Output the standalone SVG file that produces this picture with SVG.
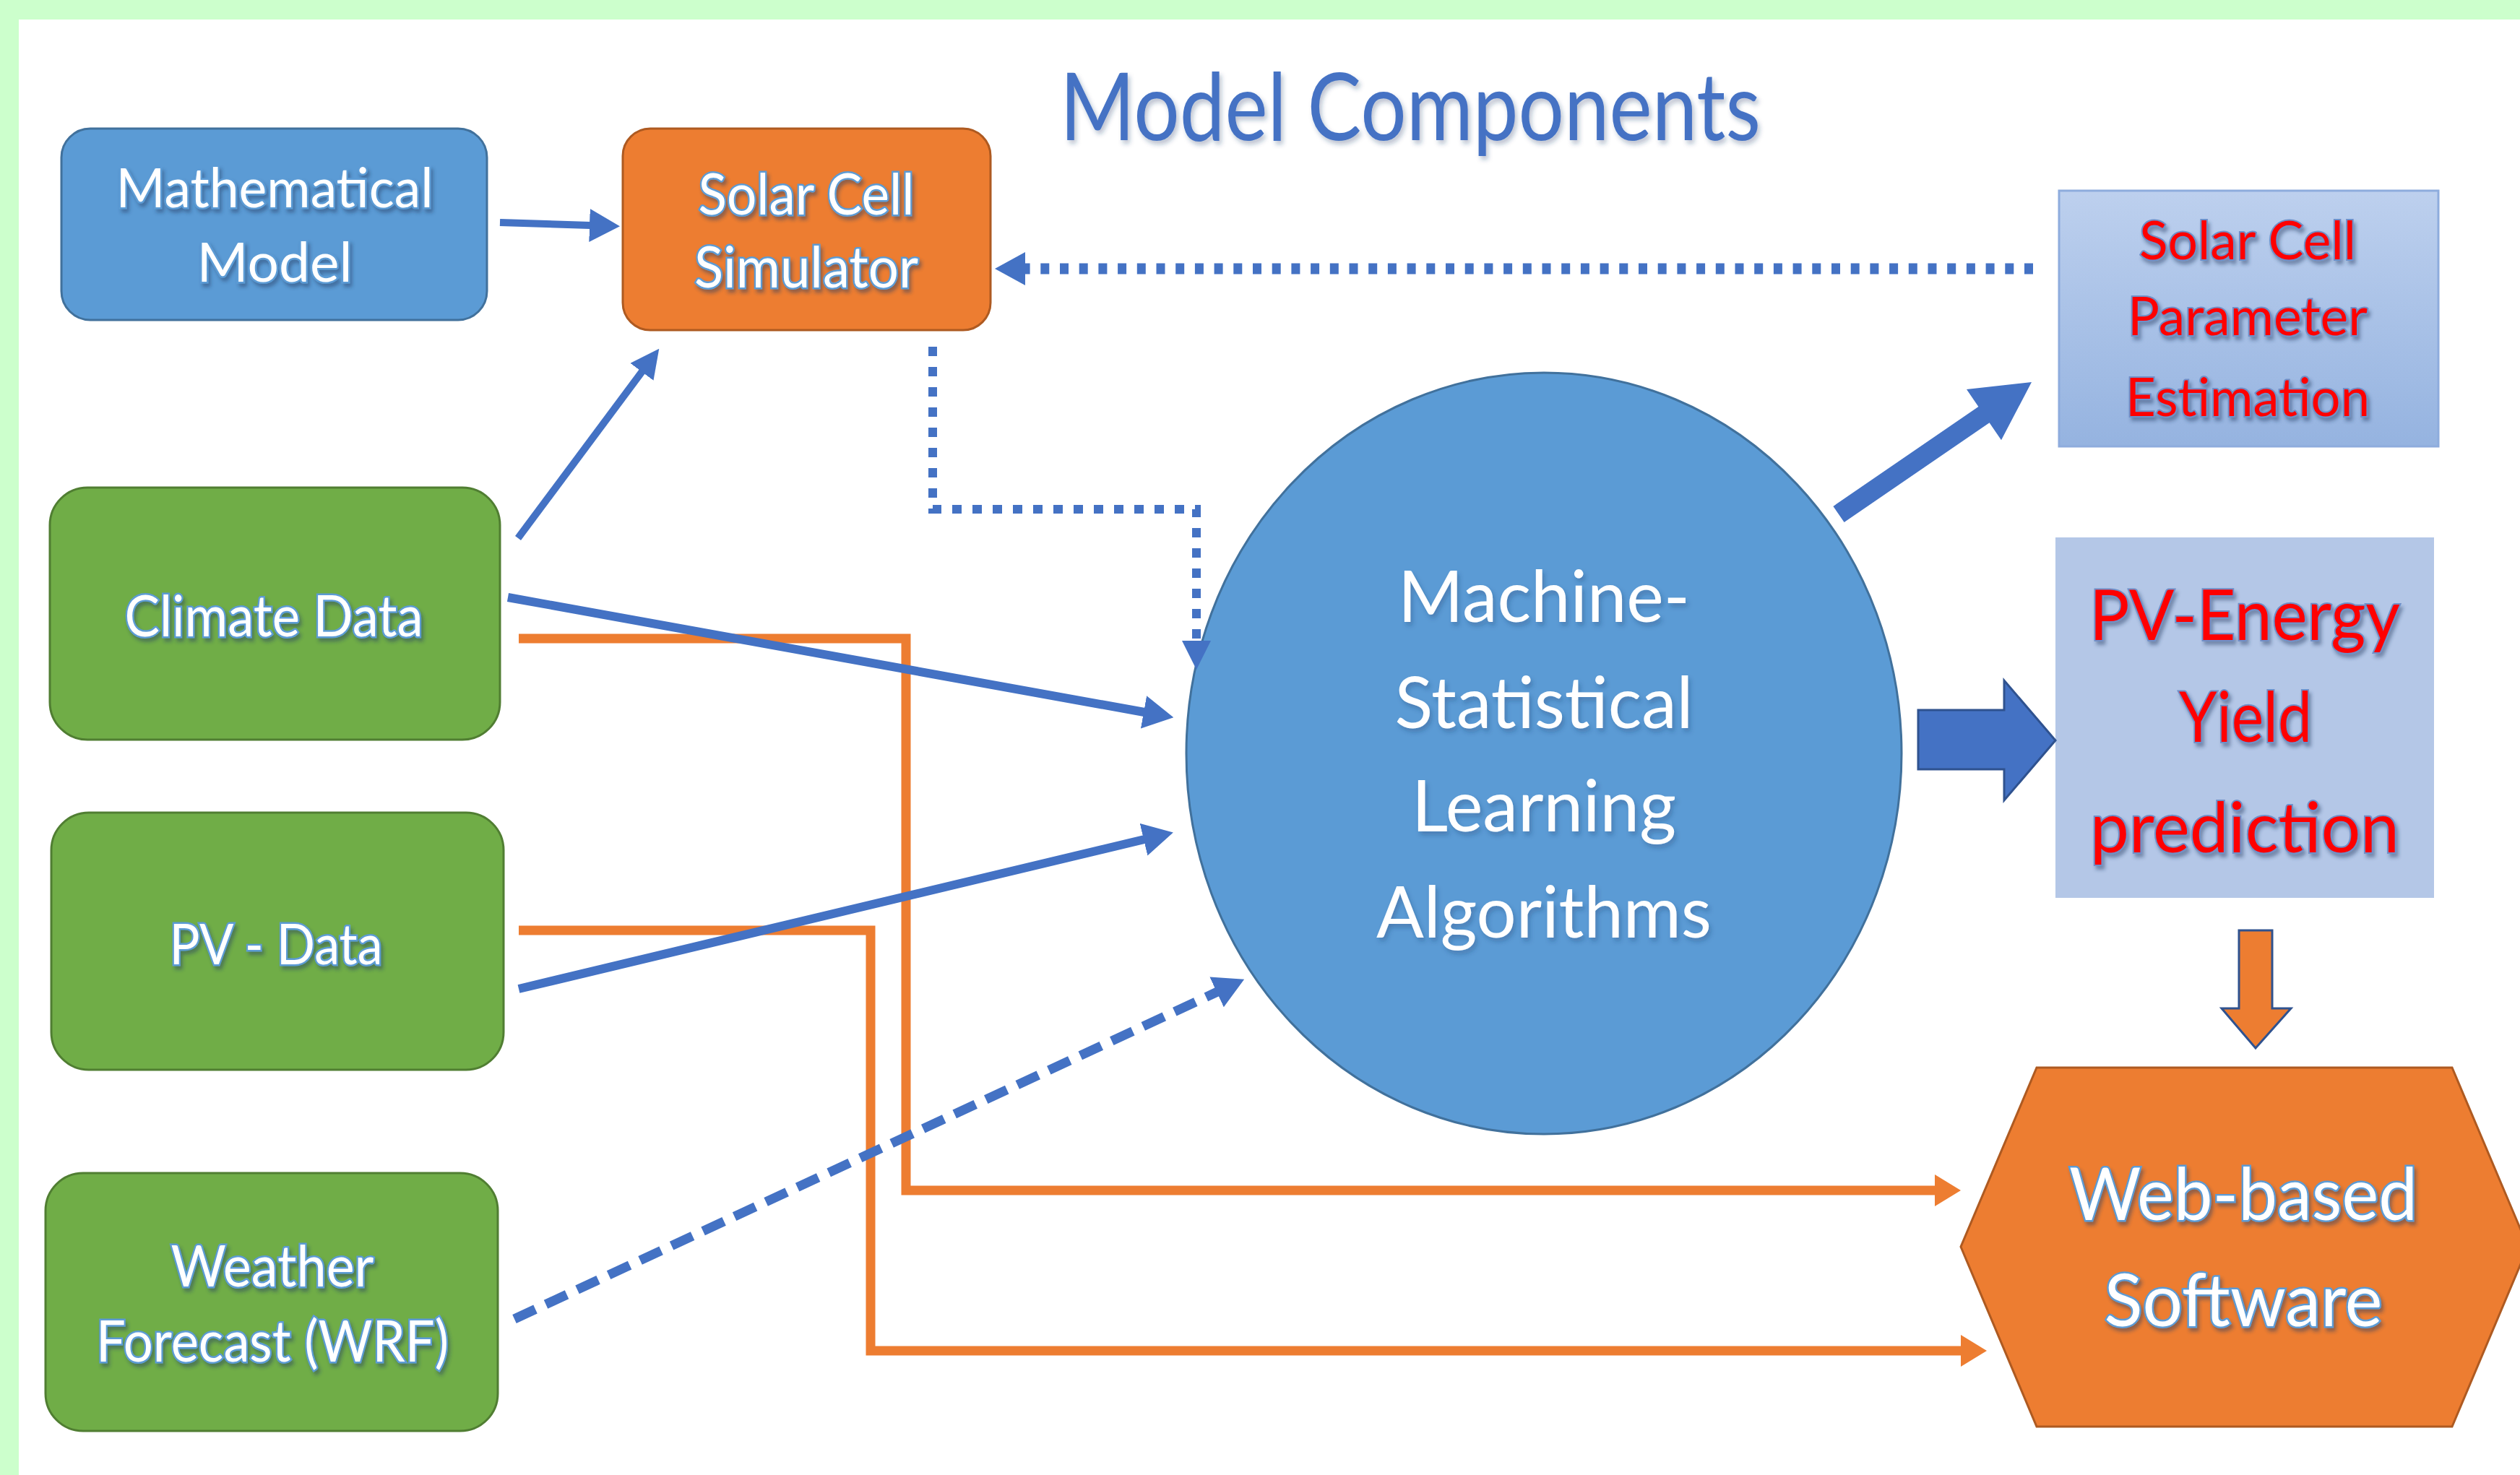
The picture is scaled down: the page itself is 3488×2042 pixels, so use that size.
<svg xmlns="http://www.w3.org/2000/svg" width="3488" height="2042" viewBox="0 0 3488 2042">
<defs>
<style>
.lbl{font-family:Lato,"Open Sans","Liberation Sans",sans-serif;fill:#fff;stroke:#5B9BD5;stroke-width:5;paint-order:stroke;text-anchor:middle;filter:url(#sh)}
.ctx{font-family:Lato,"Open Sans","Liberation Sans",sans-serif;fill:#fff;text-anchor:middle;filter:url(#sh2)}
.red{font-family:Lato,"Open Sans","Liberation Sans",sans-serif;fill:#FF0000;stroke:#6F8FC8;stroke-width:4;paint-order:stroke;text-anchor:middle;filter:url(#sh)}
.ttl{font-family:Lato,"Open Sans","Liberation Sans",sans-serif;fill:#4472C4;text-anchor:middle;filter:url(#sh2)}
.bl{fill:#5B9BD5;stroke:#41719C;stroke-width:3}
.or{fill:#ED7D31;stroke:#AE5A21;stroke-width:3}
.gr{fill:#70AD47;stroke:#507E32;stroke-width:3}
.cb{fill:none;stroke:#4472C4}
.co{fill:none;stroke:#ED7D31;stroke-width:13}
</style>
<filter id="sh" x="-10%" y="-20%" width="120%" height="150%"><feDropShadow dx="3" dy="5" stdDeviation="2.5" flood-color="#203864" flood-opacity="0.45"/></filter>
<filter id="sh2" x="-10%" y="-20%" width="120%" height="150%"><feDropShadow dx="3" dy="5" stdDeviation="3" flood-color="#203864" flood-opacity="0.3"/></filter>
<linearGradient id="pg" x1="0" y1="0" x2="0" y2="1"><stop offset="0" stop-color="#BDD0EE"/><stop offset="1" stop-color="#95B3E0"/></linearGradient>
<marker id="hb" markerUnits="userSpaceOnUse" markerWidth="42" markerHeight="46" viewBox="0 0 42 46" refX="1" refY="23" orient="auto"><path d="M0,0 L42,23 L0,46 Z" fill="#4472C4"/></marker>
<marker id="hbs" markerUnits="userSpaceOnUse" markerWidth="40" markerHeight="40" viewBox="0 0 40 40" refX="1" refY="20" orient="auto"><path d="M0,0 L40,20 L0,40 Z" fill="#4472C4"/></marker>
<marker id="ho" markerUnits="userSpaceOnUse" markerWidth="36" markerHeight="44" viewBox="0 0 36 44" refX="1" refY="22" orient="auto"><path d="M0,0 L36,22 L0,44 Z" fill="#ED7D31"/></marker>
</defs>
<rect x="0" y="0" width="3488" height="2042" fill="#FFFFFF"/>
<rect x="0" y="0" width="3488" height="27" fill="#CCFFCC"/>
<rect x="0" y="0" width="26" height="2042" fill="#CCFFCC"/>

<g id="title"><text class="ttl" x="1952" y="194" font-size="130" textLength="970" lengthAdjust="spacingAndGlyphs">Model Components</text></g>

<g id="mathematical-model">
<rect class="bl" x="85" y="178" width="589" height="265" rx="40"/>
<text class="lbl" x="380" y="287" font-size="76" textLength="439" lengthAdjust="spacingAndGlyphs">Mathematical</text>
<text class="lbl" x="380" y="390" font-size="76" textLength="215" lengthAdjust="spacingAndGlyphs">Model</text>
</g>

<g id="solar-cell-simulator">
<rect class="or" x="862" y="178" width="509" height="279" rx="38"/>
<text class="lbl" x="1116" y="297" font-size="80" textLength="299" lengthAdjust="spacingAndGlyphs">Solar Cell</text>
<text class="lbl" x="1116" y="398" font-size="80" textLength="310" lengthAdjust="spacingAndGlyphs">Simulator</text>
</g>

<g id="climate-data">
<rect class="gr" x="69" y="675" width="623" height="349" rx="52"/>
<text class="lbl" x="379" y="881" font-size="80" textLength="413" lengthAdjust="spacingAndGlyphs">Climate Data</text>
</g>

<g id="pv-data">
<rect class="gr" x="71" y="1125" width="626" height="356" rx="52"/>
<text class="lbl" x="382" y="1335" font-size="78" textLength="295" lengthAdjust="spacingAndGlyphs">PV - Data</text>
</g>

<g id="weather-forecast">
<rect class="gr" x="63" y="1624" width="626" height="357" rx="52"/>
<text class="lbl" x="377" y="1781" font-size="80" textLength="281" lengthAdjust="spacingAndGlyphs">Weather</text>
<text class="lbl" x="377" y="1885" font-size="80" textLength="488" lengthAdjust="spacingAndGlyphs">Forecast (WRF)</text>
</g>

<g id="ml-algorithms">
<ellipse class="bl" cx="2137" cy="1043" rx="495" ry="527"/>
<text class="ctx" x="2137" y="861" font-size="98" textLength="404" lengthAdjust="spacingAndGlyphs">Machine-</text>
<text class="ctx" x="2137" y="1008" font-size="98" textLength="413" lengthAdjust="spacingAndGlyphs">Statistical</text>
<text class="ctx" x="2137" y="1151" font-size="98" textLength="366" lengthAdjust="spacingAndGlyphs">Learning</text>
<text class="ctx" x="2137" y="1298" font-size="98" textLength="464" lengthAdjust="spacingAndGlyphs">Algorithms</text>
</g>

<g id="parameter-estimation">
<rect x="2850" y="264" width="525" height="354" fill="url(#pg)" stroke="#8EACDD" stroke-width="3"/>
<text class="red" x="3111" y="359" font-size="74" textLength="300" lengthAdjust="spacingAndGlyphs">Solar Cell</text>
<text class="red" x="3111" y="464" font-size="74" textLength="332" lengthAdjust="spacingAndGlyphs">Parameter</text>
<text class="red" x="3111" y="576" font-size="74" textLength="338" lengthAdjust="spacingAndGlyphs">Estimation</text>
</g>

<g id="pv-energy-yield">
<rect x="2845" y="744" width="524" height="499" fill="#B4C7E7"/>
<text class="red" x="3107" y="886" font-size="96" stroke-width="6" textLength="430" lengthAdjust="spacingAndGlyphs">PV-Energy</text>
<text class="red" x="3108" y="1027" font-size="96" stroke-width="6" textLength="184" lengthAdjust="spacingAndGlyphs">Yield</text>
<text class="red" x="3107" y="1180" font-size="96" stroke-width="6" textLength="428" lengthAdjust="spacingAndGlyphs">prediction</text>
</g>

<g id="web-based-software">
<polygon class="or" points="2819,1478 3394,1478 3499,1726 3394,1975 2819,1975 2714,1726"/>
<text class="lbl" x="3105" y="1689" font-size="101" textLength="482" lengthAdjust="spacingAndGlyphs">Web-based</text>
<text class="lbl" x="3105" y="1836" font-size="101" textLength="385" lengthAdjust="spacingAndGlyphs">Software</text>
</g>

<g id="connectors">
<path class="co" d="M718,884 H1254 V1648 H2679" marker-end="url(#ho)"/>
<path class="co" d="M718,1288 H1205 V1870 H2715" marker-end="url(#ho)"/>
<line class="cb" x1="692" y1="308" x2="817" y2="312" stroke-width="10" marker-end="url(#hb)"/>
<line class="cb" x1="717" y1="745" x2="889" y2="514" stroke-width="10" marker-end="url(#hbs)"/>
<line class="cb" x1="703" y1="827" x2="1584" y2="986" stroke-width="12" marker-end="url(#hb)"/>
<line class="cb" x1="718" y1="1369" x2="1584" y2="1162" stroke-width="12" marker-end="url(#hb)"/>
<line class="cb" x1="712" y1="1826" x2="1685" y2="1373" stroke-width="13" stroke-dasharray="32 16" marker-end="url(#hb)"/>
<line class="cb" x1="2814" y1="372" x2="1418" y2="372" stroke-width="15" stroke-dasharray="12 14.7" marker-end="url(#hb)"/>
<path class="cb" d="M1291,480 V705 H1656 V888" stroke-width="12" stroke-dasharray="13 15" marker-end="url(#hbs)"/>
<path d="M2537.4,700.9 L2738.4,563.1 L2722,539.1 L2812,529 L2770,609.3 L2753.6,585.3 L2552.6,723.1 Z" fill="#4472C4"/>
<path d="M2655,983 H2774 V942 L2845,1025 L2774,1108 V1065 H2655 Z" fill="#4472C4" stroke="#2F528F" stroke-width="3"/>
<path d="M3099,1288 H3145 V1396 H3171 L3122,1451 L3075,1396 H3099 Z" fill="#ED7D31" stroke="#2F528F" stroke-width="3"/>
</g>
</svg>
